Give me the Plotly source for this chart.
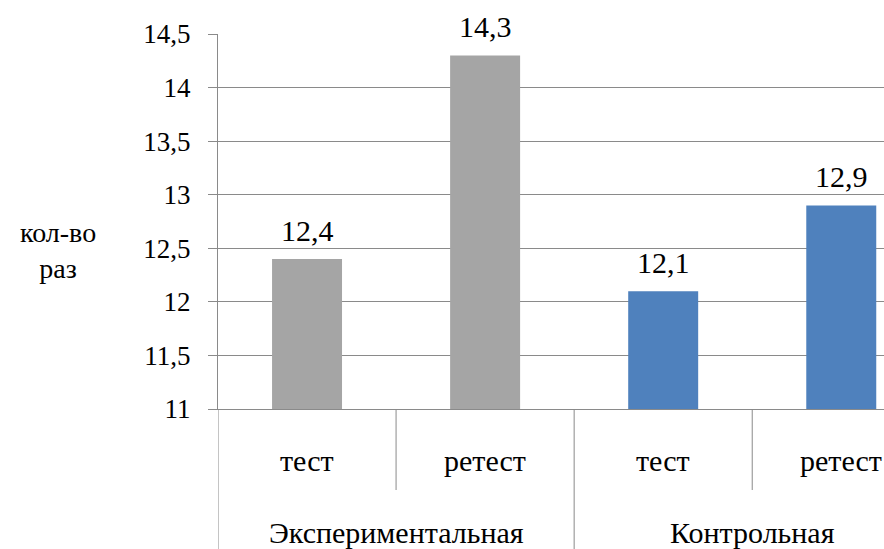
import plotly.graph_objects as go

# Data
groups = ["Экспериментальная", "Контрольная"]
stages = ["тест", "ретест"]
values = [12.4, 14.3, 12.1, 12.9]
group_colors = ["#A5A5A5", "#4F81BD"]
y_ticks = [11, 11.5, 12, 12.5, 13, 13.5, 14, 14.5]
y_title = "кол-во<br>раз"

FONT = "serif"
GRID = "#8A8A8A"

n_stages = len(stages)
xs = list(range(len(values)))
colors = [group_colors[i // n_stages] for i in xs]

fig = go.Figure()
fig.add_trace(
    go.Bar(
        x=xs,
        y=values,
        width=0.393,
        marker=dict(color=colors, line=dict(width=0)),
        hoverinfo="skip",
    )
)

# value labels above bars
for x, v in zip(xs, values):
    fig.add_annotation(
        x=x, y=v, xref="x", yref="y", text=f"{v:.1f}".replace(".", ","),
        showarrow=False, yanchor="bottom", yshift=10,
        font=dict(family=FONT, size=30, color="black"),
    )

# two-level category labels
for x in xs:
    fig.add_annotation(
        x=x, y=-0.136, xref="x", yref="paper", text=stages[x % n_stages],
        showarrow=False, yanchor="middle",
        font=dict(family=FONT, size=30, color="black"),
    )
for g, name in enumerate(groups):
    center = g * n_stages + (n_stages - 1) / 2
    fig.add_annotation(
        x=center, y=-0.33, xref="x", yref="paper", text=name,
        showarrow=False, yanchor="middle",
        font=dict(family=FONT, size=30, color="black"),
    )

# axis title
fig.add_annotation(
    x=-0.24, y=0.424, xref="paper", yref="paper", text=y_title,
    showarrow=False, align="center", xanchor="center", yanchor="middle",
    font=dict(family=FONT, size=28, color="black"),
)

# category dividers below the axis
line_style = dict(color=GRID, width=1)
for g in range(len(groups)):
    inner = g * n_stages + 0.5
    fig.add_shape(type="line", xref="x", yref="paper",
                  x0=inner, x1=inner, y0=0, y1=-0.216, line=line_style)
for g in range(len(groups)):
    edge = g * n_stages - 0.5
    fig.add_shape(type="line", xref="x", yref="paper",
                  x0=edge, x1=edge, y0=0, y1=-0.374, line=line_style)

fig.update_layout(
    width=884,
    height=549,
    margin=dict(l=218, r=0, t=34, b=140),
    paper_bgcolor="white",
    plot_bgcolor="white",
    font=dict(family=FONT, color="black"),
    separators=", ",
    showlegend=False,
)
fig.update_xaxes(
    range=[-0.5, 3.24],
    showticklabels=False,
    showgrid=False,
    zeroline=False,
    showline=True,
    linecolor=GRID,
    linewidth=1,
    ticks="",
)
fig.update_yaxes(
    range=[11, 14.5],
    tickvals=y_ticks,
    tickformat=".1~f",
    ticks="outside",
    ticklen=9,
    tickcolor=GRID,
    tickwidth=1,
    ticklabelstandoff=12,
    showline=True,
    linecolor=GRID,
    linewidth=1,
    showgrid=True,
    gridcolor=GRID,
    gridwidth=1,
    zeroline=False,
    tickfont=dict(family=FONT, size=27, color="black"),
)

fig.write_html("out.html")
